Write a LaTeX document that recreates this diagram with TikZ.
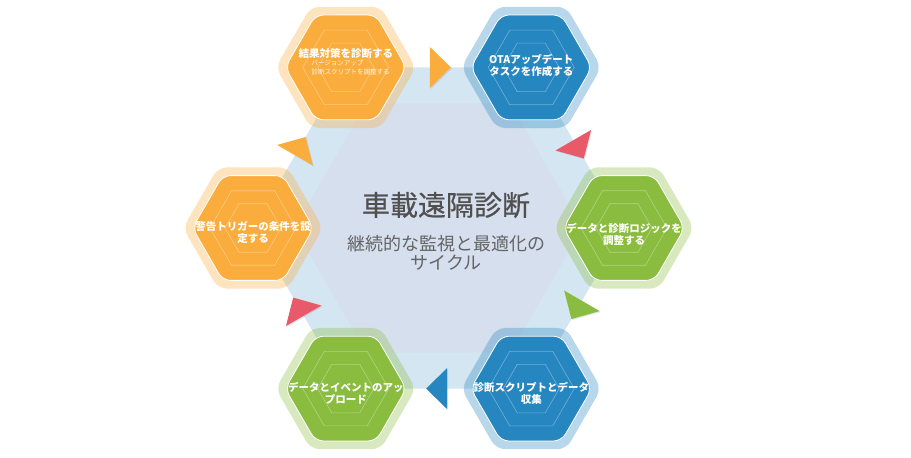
\documentclass[tikz,border=0pt]{standalone}
\usepackage{fontspec}
\newfontfamily\jp{Noto Sans CJK JP}
\newfontfamily\jpheavy[FakeBold=0.6]{Noto Sans CJK JP}
\usepackage{tikz}
\usetikzlibrary{shapes.geometric,shadows,backgrounds}
\definecolor{hexorange}{RGB}{250,173,60}
\definecolor{hexblue}{RGB}{38,134,192}
\definecolor{hexgreen}{RGB}{138,188,63}
\definecolor{arrowred}{RGB}{232,90,106}
\definecolor{ringblue}{RGB}{212,230,241}
\definecolor{coreblue}{RGB}{214,223,238}
\definecolor{titlegray}{RGB}{80,80,80}
\definecolor{subgray}{RGB}{100,100,100}
\tikzset{
    hexhalo/.style={
            regular polygon, regular polygon sides=6, minimum size=140pt,
            inner sep=0pt, rounded corners=9pt, fill=#1, fill opacity=0.33
        },
    hexmain/.style={
            regular polygon, regular polygon sides=6, minimum size=121pt,
            inner sep=0pt, rounded corners=8pt, fill=#1, draw=white, line width=0.8pt
        },
    hexring/.style={
            regular polygon, regular polygon sides=6, minimum size=#1,
            inner sep=0pt, draw=white, draw opacity=0.35, line width=0.6pt
        },
    hextext/.style={
            text=white, align=center, font=\jp\fontsize{10.5}{12}\selectfont\bfseries
        },
    steparrow/.style={
            isosceles triangle, isosceles triangle stretches, minimum width=41pt,
            minimum height=21pt, inner sep=0pt, fill=#1, midway, sloped, allow upside down,
            drop shadow={opacity=0.2, shadow xshift=1pt, shadow yshift=-1pt}
        },
}

\begin{document}
\begin{tikzpicture}[x=1pt, y=-1pt]
        \useasboundingbox (0, 0) rectangle (911, 458);
        %draw halo of each step
        \node[hexhalo=hexorange] (diaghalo) at (345.75, 67.4) {};
        \node[hexhalo=hexblue] (otahalo) at (531.25, 67.4) {};
        \node[hexhalo=hexgreen] (logichalo) at (624, 228) {};
        \node[hexhalo=hexblue] (collecthalo) at (531.25, 388.6) {};
        \node[hexhalo=hexgreen] (uploadhalo) at (345.75, 388.6) {};
        \node[hexhalo=hexorange] (triggerhalo) at (253, 228) {};
        %draw big hexagon through the steps and its core
        \begin{scope}[on background layer]
            \fill[ringblue] (diaghalo.center) -- (otahalo.center) -- (logichalo.center) -- (collecthalo.center) -- (uploadhalo.center) -- (triggerhalo.center) -- cycle;
            \node[regular polygon, regular polygon sides=6, minimum size=288pt, inner sep=0pt, fill=coreblue] (core) at (438.5, 228) {};
        \end{scope}
        %draw the six steps
        \node[hexmain=hexorange] (diag) at (diaghalo) {};
        \node[hexmain=hexblue] (ota) at (otahalo) {};
        \node[hexmain=hexgreen] (logic) at (logichalo) {};
        \node[hexmain=hexblue] (collect) at (collecthalo) {};
        \node[hexmain=hexgreen] (upload) at (uploadhalo) {};
        \node[hexmain=hexorange] (trigger) at (triggerhalo) {};
        \foreach \h in {diag, ota, logic, collect, upload, trigger}
        {
            \node[hexring=86pt] (\h ringa) at (\h) {};
            \node[hexring=56pt] (\h ringb) at (\h) {};
        }
        %draw arrows between the steps
        \path (diag.center) -- node[steparrow=hexorange] (arrowa) {} (ota.center);
        \path (ota.center) -- node[steparrow=arrowred] (arrowb) {} (logic.center);
        \path (logic.center) -- node[steparrow=hexgreen] (arrowc) {} (collect.center);
        \path (collect.center) -- node[steparrow=hexblue] (arrowd) {} (upload.center);
        \path (upload.center) -- node[steparrow=arrowred] (arrowe) {} (trigger.center);
        \path (trigger.center) -- node[steparrow=hexorange] (arrowf) {} (diag.center);
        %label the steps
        \node[hextext] (diaglabel) at ([yshift=14pt]diag.center) {結果対策を診断する};
        \node[text=white, text opacity=0.9, align=left, anchor=west, font=\jp\fontsize{6.5}{9}\selectfont] (diagnote) at (308, 67.5) {バージョンアップ\\診断スクリプトを調整する};
        \node[hextext] (otalabel) at ([yshift=2pt]ota.center) {OTAアップデート\\タスクを作成する};
        \node[hextext] (logiclabel) at ([yshift=-6pt]logic.center) {データと診断ロジックを\\調整する};
        \node[hextext] (collectlabel) at ([yshift=-5pt]collect.center) {診断スクリプトとデータ\\収集};
        \node[hextext] (uploadlabel) at ([yshift=-5pt]upload.center) {データとイベントのアッ\\プロード};
        \node[hextext] (triggerlabel) at ([yshift=-5pt]trigger.center) {警告トリガーの条件を設\\定する};
        %label the centre
        \node[text=titlegray, font=\jpheavy\fontsize{28}{30}\selectfont] (title) at (446, 205) {車載遠隔診断};
        \node[text=subgray, align=center, font=\jp\fontsize{18}{19.5}\selectfont] (subtitle) at (446, 253) {継続的な監視と最適化の\\サイクル};
    \end{tikzpicture}
\end{document}
